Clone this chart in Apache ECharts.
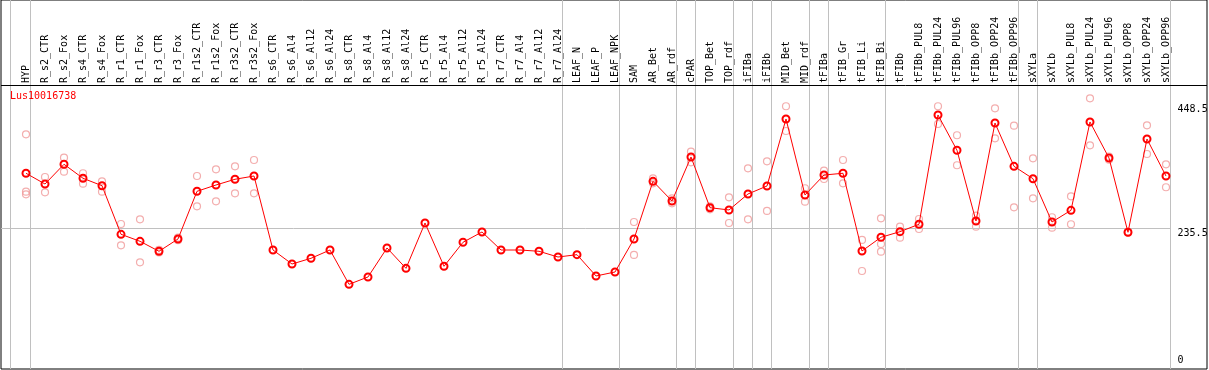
<!DOCTYPE html>
<html>
<head>
<meta charset="utf-8">
<script src="https://cdn.jsdelivr.net/npm/echarts@6/dist/echarts.min.js"></script>
<style>
  html, body { margin: 0; padding: 0; background: #fff; }
  #chart { width: 1209px; height: 370px; }
</style>
</head>
<body>
<div id="chart"></div>
<script>
const categories = [
  'HYP','R_s2_CTR','R_s2_Fox','R_s4_CTR','R_s4_Fox','R_r1_CTR','R_r1_Fox','R_r3_CTR','R_r3_Fox',
  'R_r1s2_CTR','R_r1s2_Fox','R_r3s2_CTR','R_r3s2_Fox','R_s6_CTR','R_s6_Al4','R_s6_Al12','R_s6_Al24',
  'R_s8_CTR','R_s8_Al4','R_s8_Al12','R_s8_Al24','R_r5_CTR','R_r5_Al4','R_r5_Al12','R_r5_Al24',
  'R_r7_CTR','R_r7_Al4','R_r7_Al12','R_r7_Al24','LEAF_N','LEAF_P','LEAF_NPK','SAM','AR_Bet','AR_rdf',
  'cPAR','TOP_Bet','TOP_rdf','iFIBa','iFIBb','MID_Bet','MID_rdf','tFIBa','tFIB_Gr','tFIB_Li','tFIB_Bi',
  'tFIBb','tFIBb_PUL8','tFIBb_PUL24','tFIBb_PUL96','tFIBb_OPP8','tFIBb_OPP24','tFIBb_OPP96',
  'sXYLa','sXYLb','sXYLb_PUL8','sXYLb_PUL24','sXYLb_PUL96','sXYLb_OPP8','sXYLb_OPP24','sXYLb_OPP96'
];

const meanValues = [
  329.8, 311.4, 345.2, 321.2, 308.5, 225.2, 213.2, 196.1, 217.2,
  298.9, 309.7, 319.5, 325.1, 198.3, 174.3, 184.1, 198.3,
  139.5, 152.1, 201.8, 166.9, 244.6, 170.4, 211.5, 229.2,
  198.3, 198.3, 196.1, 186.3, 190.3, 153.8, 160.6, 217.2, 316.0, 282.3,
  357.7, 270.8, 266.9, 294.3, 308.0, 422.8, 292.6, 326.8, 329.8, 196.6, 220.1,
  229.7, 242.4, 429.7, 369.2, 248.0, 415.9, 341.7,
  320.5, 246.3, 266.3, 417.7, 356.0, 228.7, 388.5, 325.1
];

const rep1 = [
  396.6, 323.4, 356.5, 329.8, 316.0, 242.9, 250.9, 198.5, 219.5,
  325.1, 336.6, 341.7, 352.5, null, null, null, null,
  null, null, null, null, null, null, null, null,
  null, null, null, null, null, null, null, 246.3, 321.2, 286.9,
  366.8, 273.0, 288.6, 338.3, 350.3, 444.6, 304.1, 334.2, 352.5, 215.5, 252.6,
  238.3, 251.4, 444.6, 394.9, 257.1, 441.1, 411.3,
  355.4, 254.4, 290.3, 458.3, 358.5, 229.5, 412.0, 345.2
];

const rep2 = [
  298.2, 297.2, 332.5, 311.9, 298.2, 206.4, 177.2, 194.0, 215.0,
  273.2, 281.8, 295.5, 295.5, null, null, null, null,
  null, null, null, null, null, null, null, null,
  null, null, null, null, null, null, null, 189.8, 312.6, 278.3,
  348.6, 268.0, 244.6, 250.9, 265.2, 402.2, 281.1, 320.0, 312.6, 162.3, 208.6,
  219.4, 234.3, 414.2, 343.5, 238.3, 389.7, 271.5,
  286.9, 236.5, 242.4, 377.7, 353.0, 228.0, 362.8, 305.8
];

const rep3 = [
  293.8, null, null, null, null, null, null, null, null,
  null, null, null, null, null, null, null, null,
  null, null, null, null, null, null, null, null,
  null, null, null, null, null, null, null, null, null, null,
  null, null, null, null, null, null, null, null, null, null, 195.4,
  null, null, null, null, null, null, null,
  null, null, null, null, null, null, null, null
];

// last category index of each group (separator lines drawn just after them)
const groupEnds = [0, 28, 31, 34, 35, 37, 38, 39, 41, 42, 45, 52, 53, 60];

const yTickValues = [0, 235.5, 448.5];
const yTickLabels = ['0', '235.5', '448.5'];

const title = 'Lus10016738';

// ---------------------------------------------------------------
const FONT = '"DejaVu Sans Mono", "Liberation Mono", monospace';
const X_MIN = -1.316, X_MAX = 62.158;
const Y_MIN = -5.6, Y_MAX = 626.7;
const HEADER_VALUE = 481.0;
const SEP_OFFSET = 0.24;
const LINE_END = 60 + SEP_OFFSET;

const toPts = arr => arr.map((v, i) => v == null ? null : [i, v]).filter(p => p);

const sepPositions = [-0.82].concat(groupEnds.map(i => i + SEP_OFFSET));
const sepLines = sepPositions.map(x => [{ coord: [x, Y_MIN] }, { coord: [x, Y_MAX] }]);

const tickLines = yTickValues.map((v, k) => {
  const isGrey = (v === 235.5);
  return [
    { coord: [X_MIN, v], lineStyle: { color: isGrey ? '#c0c0c0' : 'rgba(0,0,0,0)', width: 1, type: 'solid' } },
    {
      coord: [LINE_END, v],
      label: {
        show: true, position: 'end', distance: 7,
        formatter: yTickLabels[k],
        color: '#000', fontFamily: FONT, fontSize: 10,
        verticalAlign: v === 0 ? 'bottom' : 'top', align: 'left'
      }
    }
  ];
});

const repStyle = {
  type: 'scatter', symbol: 'circle', symbolSize: 7,
  itemStyle: { color: 'rgba(255,255,255,0)', borderColor: '#f09a9a', borderWidth: 1.2 },
  silent: true, z: 2
};

const option = {
  animation: false,
  backgroundColor: '#fff',
  title: {
    text: title, left: 10, top: 91, padding: 0,
    textStyle: { color: '#ff0000', fontFamily: FONT, fontSize: 10, fontWeight: 'normal' }
  },
  grid: { left: 1, right: 2, top: 0, bottom: 1, show: true, borderColor: '#000', borderWidth: 1, backgroundColor: 'transparent' },
  xAxis: {
    type: 'value', min: X_MIN, max: X_MAX, position: 'top', offset: -85,
    axisLine: { show: false }, axisTick: { show: false }, splitLine: { show: false },
    axisLabel: {
      customValues: categories.map((c, i) => i),
      formatter: v => categories[Math.round(v)] || '',
      rotate: 90, margin: 2, color: '#000', fontFamily: FONT, fontSize: 10,
      showMinLabel: true, showMaxLabel: true
    }
  },
  yAxis: {
    type: 'value', min: Y_MIN, max: Y_MAX,
    axisLine: { show: false }, axisTick: { show: false }, splitLine: { show: false },
    axisLabel: { show: false }
  },
  series: [
    Object.assign({ name: 'rep1', data: toPts(rep1) }, repStyle),
    Object.assign({ name: 'rep2', data: toPts(rep2) }, repStyle),
    Object.assign({ name: 'rep3', data: toPts(rep3) }, repStyle),
    {
      name: 'frame', type: 'line', data: [], silent: true, z: 1,
      markLine: {
        silent: true, symbol: ['none', 'none'], animation: false,
        label: { show: false },
        lineStyle: { color: '#c0c0c0', width: 1, type: 'solid' },
        data: sepLines.concat(tickLines).concat([
          { yAxis: HEADER_VALUE, lineStyle: { color: '#000', width: 1, type: 'solid' } }
        ])
      }
    },
    {
      name: 'mean', type: 'line', data: toPts(meanValues), z: 5,
      symbol: 'circle', symbolSize: 7, showSymbol: true,
      lineStyle: { color: '#ff0000', width: 1 },
      itemStyle: { color: 'rgba(255,255,255,0)', borderColor: '#ff0000', borderWidth: 2 },
      silent: true
    }
  ]
};

const chart = echarts.init(document.getElementById('chart'), null, { renderer: 'canvas' });
chart.setOption(option);
</script>
</body>
</html>
